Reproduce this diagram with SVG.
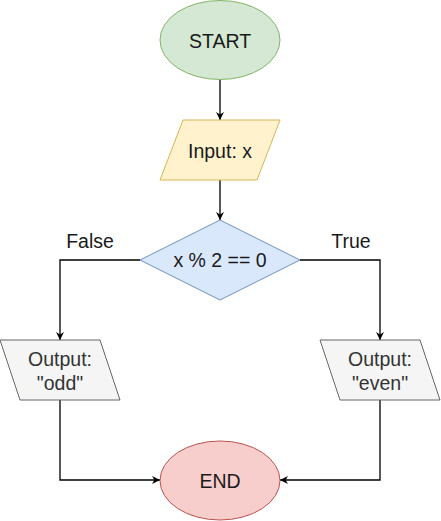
<svg xmlns="http://www.w3.org/2000/svg" width="441" height="521" viewBox="0 0 441 521">
<style>
text{font-family:"Liberation Sans",Arial,sans-serif;font-size:19.5px;text-anchor:middle}
.dark{fill:#1a1a1a}
.grey{fill:#333333}
.edge{fill:none;stroke:#000;stroke-width:1.3}
</style>
<defs>
<marker id="arr" viewBox="0 0 10 10" refX="10" refY="5" markerWidth="8" markerHeight="8" markerUnits="userSpaceOnUse" orient="auto">
<path d="M0,0 L10,5 L0,10 L3,5 z" fill="#000"/>
</marker>
</defs>
<g id="connectors">
<path class="edge" d="M220,80 V120" marker-end="url(#arr)"/>
<path class="edge" d="M220,180 V220" marker-end="url(#arr)"/>
<path class="edge" d="M140,260 H60 V340" marker-end="url(#arr)"/>
<path class="edge" d="M300,260 H380 V340" marker-end="url(#arr)"/>
<path class="edge" d="M60,400 V480 H160" marker-end="url(#arr)"/>
<path class="edge" d="M380,400 V480 H280" marker-end="url(#arr)"/>
<text x="90" y="248" class="dark">False</text>
<text x="351" y="248" class="dark">True</text>
</g>
<g id="start">
<ellipse cx="220" cy="40" rx="60" ry="39.5" fill="#d5e8d4" stroke="#82b366"/>
<text x="220" y="48" class="dark">START</text>
</g>
<g id="input">
<polygon points="183,120 280,120 257,180 160,180" fill="#fff2cc" stroke="#d6b656"/>
<text x="220" y="158" class="dark">Input: x</text>
</g>
<g id="decision">
<polygon points="220,220 300,260 220,300 140,260" fill="#dae8fc" stroke="#6c8ebf"/>
<text x="220" y="267" class="dark">x % 2 == 0</text>
</g>
<g id="odd">
<polygon points="0,340 100,340 120,400 20,400" fill="#f5f5f5" stroke="#666666"/>
<text x="60" y="366" class="grey">Output:</text>
<text x="60" y="390" class="grey">"odd"</text>
</g>
<g id="even">
<polygon points="320,340 420,340 440,400 340,400" fill="#f5f5f5" stroke="#666666"/>
<text x="380" y="366" class="grey">Output:</text>
<text x="380" y="390" class="grey">"even"</text>
</g>
<g id="end">
<ellipse cx="220" cy="480.5" rx="60" ry="39.5" fill="#f8cecc" stroke="#b85450"/>
<text x="220" y="488" class="dark">END</text>
</g>
</svg>
